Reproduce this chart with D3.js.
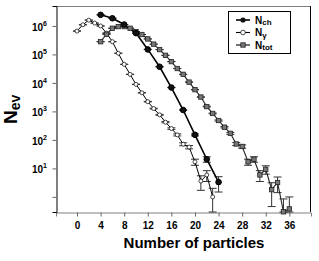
<!DOCTYPE html>
<html>
<head>
<meta charset="utf-8">
<script src="https://cdn.jsdelivr.net/npm/d3@7"></script>
<style>
  body { margin: 0; background: #fff; }
  svg { display: block; font-family: "Liberation Sans", Arial, sans-serif; font-weight: bold; }
</style>
</head>
<body>
<svg id="chart" width="319" height="261"></svg>
<script>
// multiplicity distributions
var nchX = [4, 6, 8, 10, 12, 14, 16, 18, 20, 22, 24];
var nchY = [2.45e6, 1.86e6, 1.12e6, 5.6e5, 1.5e5, 3.7e4, 6.9e3, 1.12e3, 151, 21, 3.3];

var ngX = [0, 1, 2, 3, 4, 5, 6, 7, 8, 9, 10, 11, 12, 13, 14, 15, 16, 17, 18, 19, 20, 21, 22, 23];
var ngY = [6.6e5, 1.1e6, 1.6e6, 1.26e6, 1.0e6, 5.6e5, 2.8e5, 1.1e5, 4.5e4, 2.0e4, 8.9e3, 4.5e3,
           2.2e3, 1.26e3, 760, 420, 250, 150, 71, 56, 17, 3.6, 5.9, 1.0];

var ntotX = [4, 5, 6, 7, 8, 9, 10, 11, 12, 13, 14, 15, 16, 17, 18, 19, 20, 21, 22, 23, 24, 25,
             26, 27, 28, 29, 30, 31, 32, 33, 34, 35, 36];
var ntotY = [2.8e5, 5.1e5, 8.3e5, 9.5e5, 9.5e5, 8.3e5, 6.3e5, 5.0e5, 3.5e5, 2.3e5, 1.48e5, 9.3e4,
             5.6e4, 3.2e4, 2.0e4, 1.07e4, 5.8e3, 3.2e3, 1.48e3, 850, 480, 280, 170, 72, 59, 17,
             21, 5.9, 9.3, 1.8, 3.2, 0.3, 0.38];

var xTicks = [0, 4, 8, 12, 16, 20, 24, 28, 32, 36];
var yTicks = [1, 10, 100, 1e3, 1e4, 1e5, 1e6];
var yTickExp = ["", "1", "2", "3", "4", "5", "6"];

var padL = 56, padR = 311, padT = 6, padB = 212;
var svg = d3.select("#chart");

var x = d3.scaleLinear().domain([-3.56, 39.67]).range([padL, padR]);
var y = d3.scaleLog().domain([Math.pow(10, -0.53), Math.pow(10, 6.7)]).range([padB, padT]);

function zip(xs, ys) {
	return xs.map(function(v, i) { return { n: v, v: ys[i] }; });
}
var nch = zip(nchX, nchY), ng = zip(ngX, ngY), ntot = zip(ntotX, ntotY);

// frame
svg.append("line").attr("x1", padL).attr("x2", padR).attr("y1", padT + 0.5).attr("y2", padT + 0.5)
	.attr("stroke", "#808080");
svg.append("line").attr("x1", padR - 0.5).attr("x2", padR - 0.5).attr("y1", padT).attr("y2", padB)
	.attr("stroke", "#000");

// axes
var xAxis = d3.axisBottom(x).tickValues(xTicks).tickSize(4).tickFormat(d3.format("d"));
var gx = svg.append("g").attr("transform", "translate(0," + (padB + 0.5) + ")").call(xAxis);
gx.select(".domain").attr("stroke", "#808080");
gx.selectAll(".tick line").attr("stroke", "#666");
gx.selectAll(".tick text").attr("font-size", 10).attr("font-weight", "bold")
	.attr("font-family", "Liberation Sans, Arial, sans-serif").attr("fill", "#000").attr("dy", "0.9em");

var yAxis = d3.axisLeft(y).tickValues(yTicks).tickSize(4).tickFormat("");
var gy = svg.append("g").attr("transform", "translate(" + (padL + 0.5) + ",0)").call(yAxis);
gy.select(".domain").attr("stroke", "#000");
gy.selectAll(".tick line").attr("stroke", "#666");

yTicks.forEach(function(t, i) {
	if (!yTickExp[i]) return;
	var lab = svg.append("text").attr("x", 47).attr("y", y(t) + 5)
		.attr("text-anchor", "end").attr("font-size", 10);
	lab.append("tspan").text("10");
	lab.append("tspan").attr("font-size", 7).attr("dy", -5).text(yTickExp[i]);
});

// series
var line = d3.line().x(function(d) { return x(d.n); }).y(function(d) { return y(d.v); });

function errorBars(data, color) {
	var g = svg.append("g").attr("stroke", color).attr("stroke-width", 1);
	data.forEach(function(d) {
		var e = Math.sqrt(d.v);
		var hi = y(d.v + e);
		var lo = d.v - e > y.domain()[0] ? y(d.v - e) : padB;
		var cx = x(d.n);
		g.append("line").attr("x1", cx).attr("x2", cx).attr("y1", hi).attr("y2", lo);
		g.append("line").attr("x1", cx - 4).attr("x2", cx + 4).attr("y1", hi).attr("y2", hi);
		g.append("line").attr("x1", cx - 4).attr("x2", cx + 4).attr("y1", lo).attr("y2", lo);
	});
}

errorBars(ng, "#333");
errorBars(ntot, "#333");
errorBars(nch, "#333");

svg.append("path").datum(ng).attr("d", line).attr("fill", "none").attr("stroke", "#000").attr("stroke-width", 1);
svg.append("path").datum(ntot).attr("d", line).attr("fill", "none").attr("stroke", "#222").attr("stroke-width", 1.1);
svg.append("path").datum(nch).attr("d", line).attr("fill", "none").attr("stroke", "#000").attr("stroke-width", 1.6);

svg.append("g").selectAll("circle").data(ng).enter().append("circle")
	.attr("cx", function(d) { return x(d.n); }).attr("cy", function(d) { return y(d.v); })
	.attr("r", 2).attr("fill", "#fff").attr("stroke", "#000").attr("stroke-width", 0.7);

svg.append("g").selectAll("rect").data(ntot).enter().append("rect")
	.attr("x", function(d) { return x(d.n) - 2.2; }).attr("y", function(d) { return y(d.v) - 2.2; })
	.attr("width", 4.4).attr("height", 4.4).attr("fill", "#777").attr("stroke", "#222").attr("stroke-width", 0.8);

svg.append("g").selectAll("circle").data(nch).enter().append("circle")
	.attr("cx", function(d) { return x(d.n); }).attr("cy", function(d) { return y(d.v); })
	.attr("r", 2.8).attr("fill", "#111").attr("stroke", "#000");

// legend
var legend = svg.append("g").attr("transform", "translate(228,11)");
legend.append("rect").attr("x", 0.5).attr("y", 0.5).attr("width", 62).attr("height", 42)
	.attr("fill", "#fff").attr("stroke", "#000");
var legItems = [
	{ sub: "ch", kind: "nch" },
	{ sub: "\u03b3", kind: "ng" },
	{ sub: "tot", kind: "ntot" }
];
legItems.forEach(function(it, i) {
	var cy = 9 + i * 12.5;
	var row = legend.append("g");
	row.append("line").attr("x1", 8).attr("x2", 22).attr("y1", cy).attr("y2", cy)
		.attr("stroke", "#000").attr("stroke-width", it.kind == "nch" ? 1.6 : 1.1);
	if (it.kind == "nch") {
		row.append("circle").attr("cx", 15).attr("cy", cy).attr("r", 2.6).attr("fill", "#111");
	} else if (it.kind == "ng") {
		row.append("circle").attr("cx", 15).attr("cy", cy).attr("r", 2.3).attr("fill", "#fff")
			.attr("stroke", "#000").attr("stroke-width", 0.7);
	} else {
		row.append("rect").attr("x", 12.8).attr("y", cy - 2.2).attr("width", 4.4).attr("height", 4.4)
			.attr("fill", "#777").attr("stroke", "#222").attr("stroke-width", 0.8);
	}
	var t = row.append("text").attr("x", 27).attr("y", cy + 3.5).attr("font-size", 10);
	t.append("tspan").text("N");
	t.append("tspan").attr("font-size", 8).attr("dy", 1.5).text(it.sub);
});

// axis titles
svg.append("text").attr("x", 194).attr("y", 248).attr("text-anchor", "middle")
	.attr("font-size", 15).text("Number of particles");

var yl = svg.append("text").attr("transform", "translate(17,124) rotate(-90)").attr("font-size", 19);
yl.append("tspan").text("N");
yl.append("tspan").attr("font-size", 14).attr("dy", 3).text("ev");
</script>
</body>
</html>
